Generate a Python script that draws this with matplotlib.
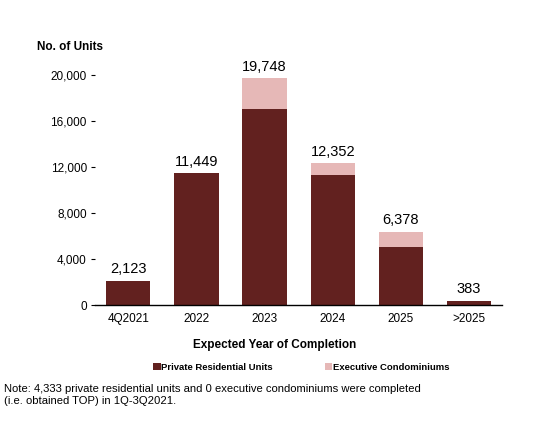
import matplotlib.pyplot as plt

plt.rcParams['font.family'] = ['Liberation Sans', 'DejaVu Sans']

# Expected completion of pipeline units
years = ["4Q2021", "2022", "2023", "2024", "2025", ">2025"]
private_units = [2123, 11449, 17040, 11300, 5070, 383]
ec_units = [0, 0, 2708, 1052, 1308, 0]
totals = [2123, 11449, 19748, 12352, 6378, 383]
yticks = [0, 4000, 8000, 12000, 16000, 20000]

dark = "#62211F"
light = "#E6B8B7"


def main():
    fig = plt.figure(figsize=(5.5, 4.21), dpi=100)
    ax = fig.add_axes([0.173, 0.2755, 0.74, 0.546])
    x = range(len(years))
    ax.bar(x, private_units, width=0.65, color=dark, label="Private Residential Units")
    ax.bar(x, ec_units, width=0.65, bottom=private_units, color=light,
           label="Executive Condominiums")
    # total labels above each bar
    for i, t in enumerate(totals):
        ax.text(i, t + 380, f"{t:,}", ha="center", va="bottom", fontsize=10.5,
                clip_on=False)

    ax.set_xlim(-0.485, 5.485)
    ax.set_ylim(0, 20000)
    ax.set_yticks(yticks)
    ax.set_yticklabels([f"{v:,}" for v in yticks], fontsize=8.5)
    ax.set_xticks(list(x))
    ax.set_xticklabels(years, fontsize=8.5)
    ax.tick_params(axis="x", length=0, pad=6)
    ax.tick_params(axis="y", length=3, width=0.8, pad=3)
    for s in ["top", "right", "left"]:
        ax.spines[s].set_visible(False)
    ax.spines["bottom"].set_linewidth(1.0)

    fig.text(0.067, 0.888, "No. of Units", fontsize=8.5, fontweight="bold",
             va="center")
    fig.text(0.5, 0.18, "Expected Year of Completion", fontsize=8.5,
             fontweight="bold", ha="center", va="center")
    fig.legend(loc="center", bbox_to_anchor=(0.548, 0.127), ncol=2,
               frameon=False, prop={"size": 6.8, "weight": "bold"},
               handlelength=0.8, handleheight=0.8, handletextpad=0.05,
               columnspacing=5.5)
    fig.text(0.008, 0.062,
             "Note: 4,333 private residential units and 0 executive condominiums were completed\n"
             "(i.e. obtained TOP) in 1Q-3Q2021.",
             fontsize=8.1, va="center", linespacing=1.2)
    fig.savefig("out.png", dpi=100)


if __name__ == '__main__':
    main()
